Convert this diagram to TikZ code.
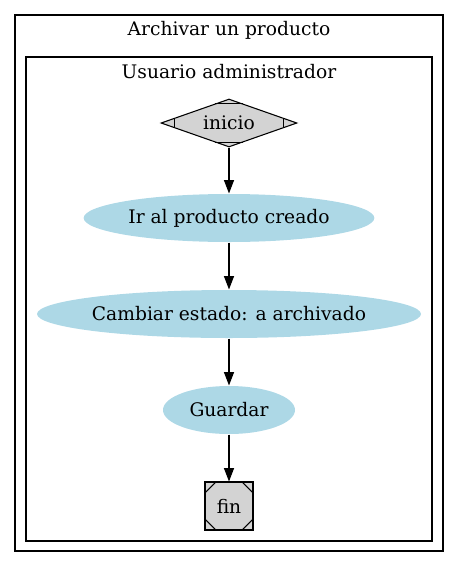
\documentclass[tikz,border=0pt]{standalone}
\usepackage{fontspec}
\setmainfont{DejaVu Serif}
\usetikzlibrary{shapes.geometric,arrows.meta}
\definecolor{celeste}{RGB}{173,216,230}
\definecolor{gris}{RGB}{211,211,211}
\begin{document}
\begin{tikzpicture}[x=0.75pt,y=-0.75pt,line width=0.8pt,
        font=\fontsize{14}{16}\selectfont,
        paso/.style={ellipse, fill=celeste, inner ysep=0pt, inner xsep=-3pt, minimum height=36pt},
        flecha/.style={-{Triangle[length=10pt,width=7.5pt]}}]
        \useasboundingbox (0,0) rectangle (459,568);
        % grupos
        \draw (15,15) rectangle (443,551);
        \node (titulo) at (229,30) {Archivar un producto};
        \draw (26,57) rectangle (432,541);
        \node (usuario) at (229,72) {Usuario administrador};
        % inicio
        \node[diamond, aspect=2.8, draw, fill=gris, inner sep=0pt, minimum width=102pt, minimum height=36pt] (inicio) at (229,123) {inicio};
        \draw ([shift={(-14,5)}]inicio.north) -- ([shift={(14,5)}]inicio.north);
        \draw ([shift={(-14,-5)}]inicio.south) -- ([shift={(14,-5)}]inicio.south);
        \draw ([shift={(14,-5)}]inicio.west) -- ([shift={(14,5)}]inicio.west);
        \draw ([shift={(-14,-5)}]inicio.east) -- ([shift={(-14,5)}]inicio.east);
        % pasos
        \node[paso, minimum width=218pt] (ir) at (229,218) {Ir al producto creado};
        \node[paso, minimum width=288pt] (cambiar) at (229,314) {Cambiar estado: a archivado};
        \node[paso, minimum width=99pt] (guardar) at (229,410) {Guardar};
        % fin
        \node[draw, fill=gris, inner sep=0pt, minimum size=36pt] (fin) at (229,506) {fin};
        \draw ([shift={(0,12)}]fin.north west) -- ([shift={(12,0)}]fin.north west);
        \draw ([shift={(0,12)}]fin.north east) -- ([shift={(-12,0)}]fin.north east);
        \draw ([shift={(0,-12)}]fin.south west) -- ([shift={(12,0)}]fin.south west);
        \draw ([shift={(0,-12)}]fin.south east) -- ([shift={(-12,0)}]fin.south east);
        % flechas
        \draw[flecha] (inicio) -- (ir);
        \draw[flecha] (ir) -- (cambiar);
        \draw[flecha] (cambiar) -- (guardar);
        \draw[flecha] (guardar) -- (fin);
\end{tikzpicture}
\end{document}
